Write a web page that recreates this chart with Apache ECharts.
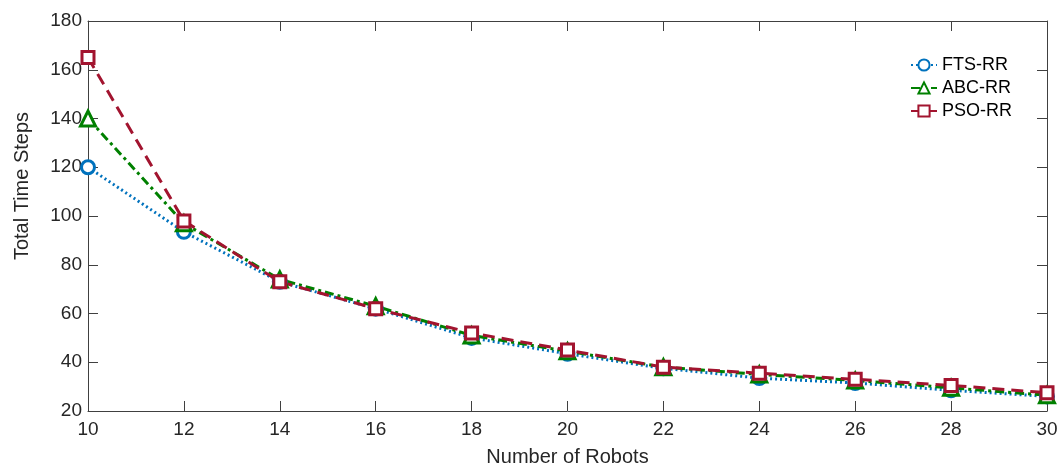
<!DOCTYPE html>
<html>
<head>
<meta charset="utf-8">
<script src="https://cdn.jsdelivr.net/npm/echarts@6/dist/echarts.min.js"></script>
<style>html,body{margin:0;padding:0;background:#fff}#c{width:1058px;height:466px}</style>
</head>
<body>
<div id="c"></div>
<script>
const robots = [10, 12, 14, 16, 18, 20, 22, 24, 26, 28, 30];
const ftsRR = [120, 93.5, 73, 62, 50, 43.5, 37.5, 33.5, 31.5, 28.5, 26];
const abcRR = [140, 97, 74, 63, 51, 44.5, 38, 35, 32.5, 29.5, 26.5];
const psoRR = [165, 98, 73, 62, 52, 45, 38, 35.5, 33, 30.5, 27.5];
const seriesNames = ['FTS-RR', 'ABC-RR', 'PSO-RR'];
const xTicks = {min: 10, max: 30, interval: 2};
const yTicks = {min: 20, max: 180, interval: 20};

const FONT = '"Liberation Sans", Arial, Helvetica, sans-serif';
const AX = '#262626';
const chart = echarts.init(document.getElementById('c'), null, {renderer: 'canvas'});

function pts(ys) { return robots.map((x, i) => [x, ys[i]]); }

const axisBase = (show) => ({
  type: 'value',
  axisLine: {show: true, onZero: false, lineStyle: {color: '#404040', width: 1}},
  axisTick: {show: true, inside: true, length: 10, lineStyle: {color: '#404040', width: 1}},
  splitLine: {show: false},
  axisLabel: {show: show, color: AX, fontFamily: FONT, fontSize: 19}
});

chart.setOption({
  animation: false,
  backgroundColor: '#fff',
  grid: {left: 88, right: 11, top: 21, bottom: 55, containLabel: false, outerBoundsMode: 'none'},
  legend: {
    orient: 'vertical', left: 905, top: 51,
    itemWidth: 26, itemHeight: 14, itemGap: 5,
    textStyle: {fontFamily: FONT, fontSize: 18, color: '#000'},
    data: seriesNames
  },
  xAxis: [
    Object.assign(axisBase(true), xTicks, {
      position: 'bottom', name: 'Number of Robots', nameLocation: 'middle', nameGap: 36,
      nameTextStyle: {fontFamily: FONT, fontSize: 20, color: AX},
      axisLabel: {show: true, color: AX, fontFamily: FONT, fontSize: 19, margin: 9}
    }),
    Object.assign(axisBase(false), xTicks, {position: 'top'})
  ],
  yAxis: [
    Object.assign(axisBase(true), yTicks, {
      position: 'left', name: 'Total Time Steps', nameLocation: 'middle', nameGap: 56,
      nameTextStyle: {fontFamily: FONT, fontSize: 20, color: AX, padding: [0, 0, 0, 60]},
      axisLabel: {show: true, color: AX, fontFamily: FONT, fontSize: 19, margin: 6}
    }),
    Object.assign(axisBase(false), yTicks, {position: 'right'})
  ],
  series: [
    {
      name: seriesNames[0], type: 'line', data: pts(ftsRR),
      symbol: 'circle', symbolSize: 13,
      lineStyle: {color: '#0072BD', width: 3, type: [2, 3]},
      itemStyle: {color: '#fff', borderColor: '#0072BD', borderWidth: 3}
    },
    {
      name: seriesNames[1], type: 'line', data: pts(abcRR),
      symbol: 'triangle', symbolSize: 15,
      lineStyle: {color: '#008000', width: 3, type: [9, 4, 3, 4]},
      itemStyle: {color: '#fff', borderColor: '#008000', borderWidth: 3}
    },
    {
      name: seriesNames[2], type: 'line', data: pts(psoRR),
      symbol: 'rect', symbolSize: 12,
      lineStyle: {color: '#A2142F', width: 3, type: [12, 7]},
      itemStyle: {color: '#fff', borderColor: '#A2142F', borderWidth: 3}
    }
  ]
});
</script>
</body>
</html>
